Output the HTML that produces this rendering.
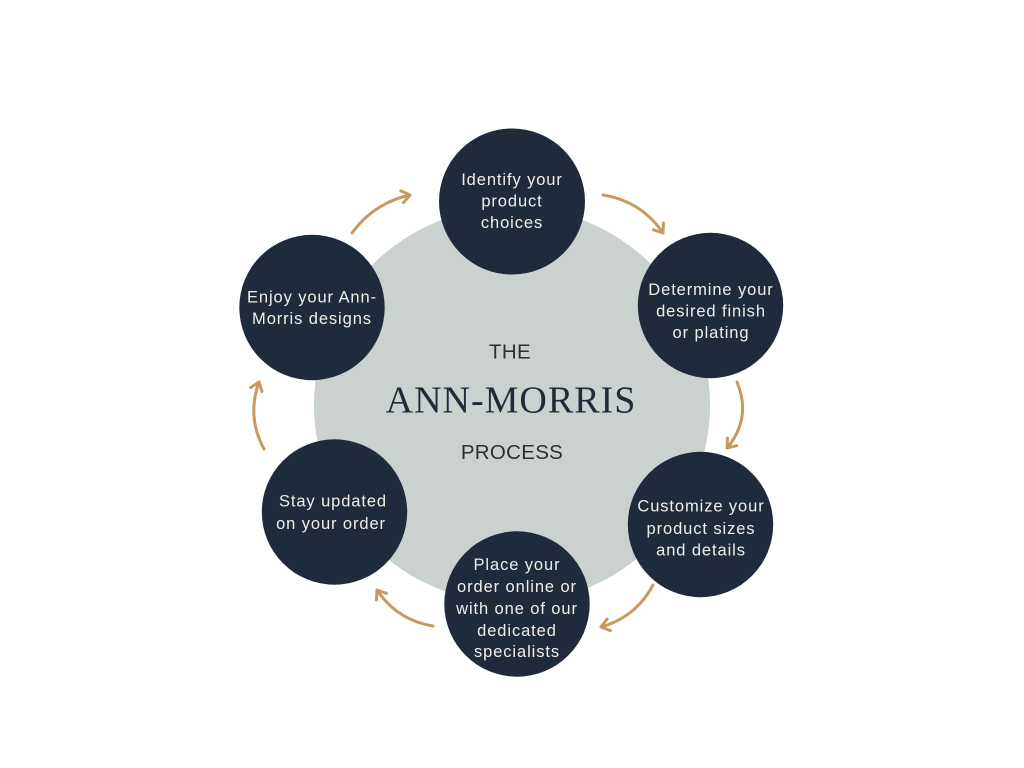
<!DOCTYPE html>
<html>
<head>
<meta charset="utf-8">
<style>
  html, body { margin: 0; padding: 0; background: #ffffff; }
  body { width: 1024px; height: 768px; overflow: hidden; }
  svg { display: block; }
  .ct { font-family: "Liberation Sans", "DejaVu Sans", sans-serif; font-size: 16.5px; fill: #f2eee7; letter-spacing: 0.9px; text-anchor: middle; }
  .hd { font-family: "Liberation Sans", "DejaVu Sans", sans-serif; font-size: 20.5px; fill: #2e2e2e; text-anchor: middle; letter-spacing: 0.3px; }
  .big { font-family: "Liberation Serif", "DejaVu Serif", serif; font-size: 38px; fill: #1f2b3b; text-anchor: middle; letter-spacing: 1px; }
  .arr { fill: none; stroke: #c99a60; stroke-width: 3; stroke-linecap: round; stroke-linejoin: round; }
</style>
</head>
<body>
<svg width="1024" height="768" viewBox="0 0 1024 768" xmlns="http://www.w3.org/2000/svg">
  <defs>
    <marker id="ah" viewBox="-12 -8 14 16" refX="0" refY="0" markerWidth="14" markerHeight="16" orient="auto" markerUnits="userSpaceOnUse">
      <path d="M-8,-6 L0,0 L-8,6" fill="none" stroke="#c99a60" stroke-width="3" stroke-linecap="round" stroke-linejoin="round"/>
    </marker>
  </defs>

  <rect width="1024" height="768" fill="#ffffff"/>

  <!-- big gray circle -->
  <circle cx="512" cy="405" r="198" fill="#cad1ce"/>

  <!-- center text -->
  <text class="hd" x="510" y="358.3">THE</text>
  <text class="big" x="511" y="412.7">ANN-MORRIS</text>
  <text class="hd" x="512" y="459">PROCESS</text>

  <!-- arrows -->
  <path class="arr" marker-end="url(#ah)" d="M352,233 Q374,203 410,195"/>
  <path class="arr" marker-end="url(#ah)" d="M603,195 Q641,201 663,233"/>
  <path class="arr" marker-end="url(#ah)" d="M737,382 Q752,418 727,448"/>
  <path class="arr" marker-end="url(#ah)" d="M653,585 Q636,617 601,627"/>
  <path class="arr" marker-end="url(#ah)" d="M433,626 Q397,620 377,590"/>
  <path class="arr" marker-end="url(#ah)" d="M264,449 Q246.5,417 259,382"/>

  <!-- dark circles -->
  <circle cx="512" cy="201.5" r="73" fill="#1f2b3b"/>
  <circle cx="710.5" cy="305.5" r="72.7" fill="#1f2b3b"/>
  <circle cx="700.5" cy="524.5" r="72.7" fill="#1f2b3b"/>
  <circle cx="517" cy="604" r="72.7" fill="#1f2b3b"/>
  <circle cx="334.5" cy="512" r="72.7" fill="#1f2b3b"/>
  <circle cx="312" cy="307.5" r="72.7" fill="#1f2b3b"/>

  <!-- circle texts -->
  <text class="ct" x="512" y="185">Identify your</text>
  <text class="ct" x="512" y="206.5">product</text>
  <text class="ct" x="512" y="228">choices</text>

  <text class="ct" x="711" y="295">Determine your</text>
  <text class="ct" x="711" y="316.7">desired finish</text>
  <text class="ct" x="711" y="338">or plating</text>

  <text class="ct" x="701" y="511.7">Customize your</text>
  <text class="ct" x="701" y="534">product sizes</text>
  <text class="ct" x="701" y="555.5">and details</text>

  <text class="ct" x="517" y="570">Place your</text>
  <text class="ct" x="517" y="592">order online or</text>
  <text class="ct" x="517" y="614">with one of our</text>
  <text class="ct" x="517" y="636">dedicated</text>
  <text class="ct" x="517" y="657">specialists</text>

  <text class="ct" x="333" y="506.7">Stay updated</text>
  <text class="ct" x="331" y="529">on your order</text>

  <text class="ct" x="312" y="302.7">Enjoy your Ann-</text>
  <text class="ct" x="312" y="324">Morris designs</text>
</svg>
</body>
</html>
